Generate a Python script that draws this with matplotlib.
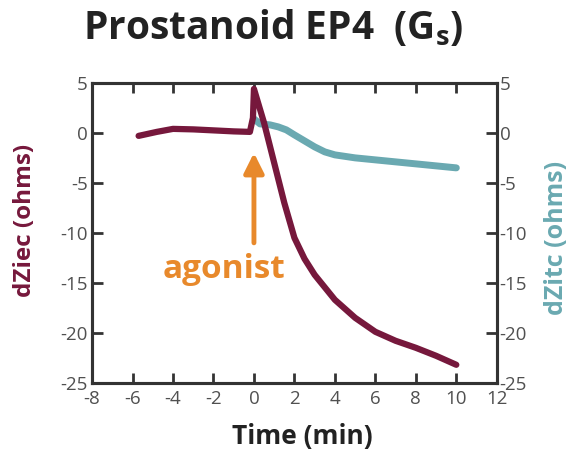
import matplotlib
matplotlib.use("Agg")
import matplotlib.pyplot as plt

plt.rcParams['font.family'] = ['Open Sans', 'DejaVu Sans']
plt.rcParams['mathtext.default'] = 'regular'
plt.rcParams['axes.unicode_minus'] = False

# readings
ziec_t = [-5.7, -4.8, -4.0, -3.0, -2.0, -1.0, -0.2, -0.05, 0.0, 0.5, 1.0, 1.5, 2.0, 2.5, 3.0, 4.0, 5.0, 6.0, 7.0, 8.0, 9.0, 10.0]
ziec_v = [-0.3, 0.1, 0.4, 0.35, 0.25, 0.15, 0.1, 1.5, 4.4, 1.0, -3.0, -7.0, -10.5, -12.6, -14.2, -16.7, -18.5, -19.9, -20.8, -21.5, -22.3, -23.2]

zitc_t = [0.0, 0.3, 0.8, 1.2, 1.6, 2.0, 2.5, 3.0, 3.5, 4.0, 5.0, 6.0, 7.0, 8.0, 9.0, 10.0]
zitc_v = [1.4, 0.9, 0.8, 0.6, 0.3, -0.2, -0.8, -1.4, -1.9, -2.2, -2.5, -2.7, -2.9, -3.1, -3.3, -3.5]

xticks = list(range(-8, 13, 2))
yticks = [5, 0, -5, -10, -15, -20, -25]

maroon = '#76183c'
teal = '#6aa9b1'
orange = '#e8892b'
dark = '#333333'
ticklab = '#505050'

fig = plt.figure(figsize=(5.79, 4.53), dpi=100)
ax = fig.add_axes([0.159, 0.155, 0.699, 0.662])
ax2 = ax.twinx()

ax2.plot(zitc_t, zitc_v, color=teal, lw=5, solid_capstyle='round', solid_joinstyle='round')
ax.plot(ziec_t, ziec_v, color=maroon, lw=4.5, solid_capstyle='round', solid_joinstyle='round', zorder=3)
ax.set_zorder(ax2.get_zorder() + 1)
ax.patch.set_visible(False)

for a in (ax, ax2):
    a.set_xlim(-8, 12)
    a.set_ylim(-25, 5)
    a.set_yticks(yticks)
    for s in a.spines.values():
        s.set_linewidth(2.2)
        s.set_color(dark)

ax.set_xticks(xticks)
ax.tick_params(axis='x', direction='in', top=True, length=7, width=2, color=dark,
               labelsize=13.5, labelcolor=ticklab, pad=5)
ax.tick_params(axis='y', direction='in', length=8, width=2, color=dark,
               labelsize=13.5, labelcolor=ticklab, pad=3)
ax2.tick_params(axis='y', direction='in', length=8, width=2, color=dark,
                labelsize=13.5, labelcolor=ticklab, pad=2)

ax.annotate('', xy=(0, -2.0), xytext=(0, -11.0),
            arrowprops=dict(arrowstyle='-|>,head_width=0.6,head_length=1.2',
                            color=orange, lw=3.5, shrinkA=0, shrinkB=0))
ax.text(-1.5, -13.7, 'agonist', color=orange, fontsize=24, fontweight='bold',
        ha='center', va='center')

ax.set_xlabel('Time (min)', fontsize=19, fontweight='bold', color='#222222', va='center')
ax.xaxis.set_label_coords(0.52, -0.18)
ax.set_ylabel('dZiec (ohms)', fontsize=17.5, fontweight='bold', color=maroon, va='center')
ax.yaxis.set_label_coords(-0.165, 0.543)
ax2.set_ylabel('dZitc (ohms)', fontsize=18, fontweight='bold', color=teal,
               rotation=90, va='center')
ax2.yaxis.set_label_coords(1.148, 0.483)

fig.text(0.472, 0.94, r'Prostanoid EP4  (G$_{s}$)', fontsize=28, fontweight='bold',
         color='#222222', ha='center', va='center')

fig.savefig('out.png', dpi=100, facecolor='white')
